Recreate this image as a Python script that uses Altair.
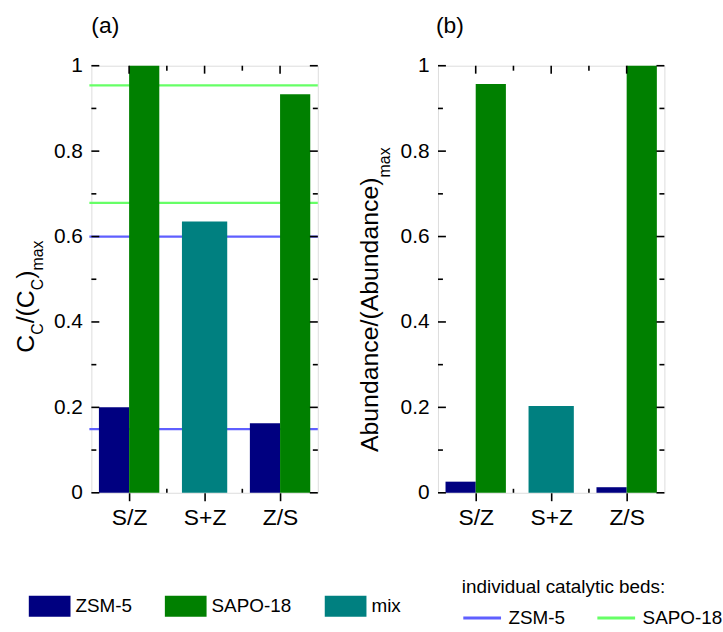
import altair as alt
import pandas as pd

FONT = "Liberation Sans"
TICK_COLOR = "black"

# ---------------- data ----------------
categories = ["S/Z", "S+Z", "Z/S"]
series_names = ["ZSM-5", "SAPO-18", "mix"]

# panel (a): C_C/(C_C)max
cc_zsm5 = [0.200, None, 0.163]
cc_sapo18 = [1.000, None, 0.933]
cc_mix = [None, 0.635, None]

# individual catalytic beds (panel a reference lines)
bed_names = ["ZSM-5", "SAPO-18"]
bed_zsm5 = [0.600, 0.149]
bed_sapo18 = [0.954, 0.679]

# panel (b): Abundance/(Abundance)max
ab_zsm5 = [0.026, None, 0.013]
ab_sapo18 = [0.957, None, 1.000]
ab_mix = [None, 0.203, None]

# axis ticks
y_major = [0, 0.2, 0.4, 0.6, 0.8, 1.0]
y_minor = [0.1, 0.3, 0.5, 0.7, 0.9]
x_major = [1, 2, 3]
x_minor = [1.5, 2.5]

bar_colors = ["#000080", "#008000", "#008080"]
bed_colors = ["#5f5fff", "#66ff66"]

W, H = 228, 430


def bar_table(zsm, sapo, mix):
    rows = []
    for i, cat in enumerate(categories):
        for name, vals in zip(series_names, [zsm, sapo, mix]):
            if vals[i] is not None:
                rows.append({"idx": i + 1, "category": cat, "series": name,
                             "value": vals[i], "base": 0})
    return pd.DataFrame(rows)


label_expr = "[''," + ",".join("'%s'" % c for c in categories) + "][datum.value]"

x_scale = alt.Scale(domain=[0.5, 3.5], nice=False, zero=False)
y_scale = alt.Scale(domain=[0, 1], nice=False, zero=True)

x_axis = alt.Axis(values=x_major, labelExpr=label_expr, ticks=True, tickSize=8,
                  tickWidth=1.6, tickColor=TICK_COLOR, domain=False, grid=False,
                  labelFontSize=23, labelPadding=6, title=None, labelColor="black",
                  labelFont=FONT)
y_axis = alt.Axis(values=y_major, format="~g", ticks=False, domain=False, grid=False,
                  labelFontSize=21, labelPadding=9, title=None, labelColor="black",
                  labelFont=FONT)

# legend positions are relative to the plot origin of panel (a)
fill_legend = alt.Legend(orient="none", legendX=-63, legendY=523, direction="horizontal",
                         title=None, symbolType="M-1,-0.5H1V0.5H-1Z", symbolSize=1764,
                         symbolStrokeWidth=0, symbolOpacity=1, labelFontSize=19,
                         labelFont=FONT, labelColor="black", columnPadding=33,
                         labelOffset=5)
stroke_legend = alt.Legend(orient="none", legendX=373, legendY=516, direction="horizontal",
                           title="individual catalytic beds:", titleFontSize=19,
                           titleFont=FONT, titleFontWeight="normal", titleColor="black",
                           titleLimit=400, titlePadding=7, symbolType="M-1,0H2.04",
                           symbolSize=625, symbolStrokeWidth=3, labelFontSize=19,
                           labelFont=FONT, labelColor="black", columnPadding=26,
                           labelOffset=19)


def bars(df):
    return alt.Chart(df).transform_calculate(
        x0="datum.idx + (datum.series == 'ZSM-5' ? -0.4 : (datum.series == 'SAPO-18' ? 0 : -0.3))",
        x1="datum.idx + (datum.series == 'ZSM-5' ? 0 : (datum.series == 'SAPO-18' ? 0.4 : 0.3))",
    ).mark_rect().encode(
        x=alt.X("x0:Q", scale=x_scale, axis=x_axis),
        x2="x1:Q",
        y=alt.Y("value:Q", scale=y_scale, axis=y_axis),
        y2="base:Q",
        fill=alt.Fill("series:N", scale=alt.Scale(domain=series_names, range=bar_colors),
                      legend=fill_legend),
    )


def ticks():
    ymaj = pd.DataFrame({"v": y_major})
    ymin = pd.DataFrame({"v": y_minor})
    xmaj = pd.DataFrame({"v": x_major})
    xmin = pd.DataFrame({"v": x_minor})
    base = dict(color=TICK_COLOR, strokeWidth=1.6, opacity=1)
    layers = []
    for df, ln in [(ymaj, 8), (ymin, 5)]:
        layers.append(alt.Chart(df).mark_rule(**base).encode(
            y=alt.Y("v:Q", scale=y_scale, axis=y_axis), x=alt.value(0), x2=alt.value(ln)))
        layers.append(alt.Chart(df).mark_rule(**base).encode(
            y=alt.Y("v:Q", scale=y_scale, axis=y_axis), x=alt.value(W), x2=alt.value(W - ln)))
    for df, ln in [(xmaj, 8), (xmin, 5)]:
        layers.append(alt.Chart(df).mark_rule(**base).encode(
            x=alt.X("v:Q", scale=x_scale, axis=x_axis), y=alt.value(0), y2=alt.value(ln)))
    layers.append(alt.Chart(xmin).mark_rule(**base).encode(
        x=alt.X("v:Q", scale=x_scale, axis=x_axis), y=alt.value(H), y2=alt.value(H - 4)))
    return layers


def txt(s, x, y, size, angle=270):
    return alt.Chart(alt.Data(values=[{"k": 1}])).mark_text(
        text=s, angle=angle, align="left", baseline="alphabetic", fontSize=size,
        font=FONT, color="black").encode(x=alt.value(x), y=alt.value(y))


def rot_title(pieces, y_start, x_main, x_sub, big=25, small=16):
    # approximate Arial advance widths (em units)
    w = {"C": 0.722, "/": 0.278, "(": 0.333, ")": 0.333, "m": 0.833, "a": 0.556,
         "x": 0.5, "A": 0.667, "b": 0.556, "u": 0.556, "n": 0.556, "d": 0.556,
         "c": 0.5, "e": 0.556}
    out = []
    y = y_start
    for s, sub in pieces:
        fs = small if sub else big
        out.append(txt(s, x_sub if sub else x_main, y, fs))
        y -= sum(w.get(ch, 0.55) for ch in s) * fs
    return out


# panel (a)
df_a = bar_table(cc_zsm5, cc_sapo18, cc_mix)
beds = pd.DataFrame(
    [{"bed": "ZSM-5", "v": v} for v in bed_zsm5] +
    [{"bed": "SAPO-18", "v": v} for v in bed_sapo18])
rules_a = alt.Chart(beds).mark_rule(strokeWidth=2.2).encode(
    y=alt.Y("v:Q", scale=y_scale, axis=y_axis),
    x=alt.value(-2), x2=alt.value(W),
    stroke=alt.Stroke("bed:N", scale=alt.Scale(domain=bed_names, range=bed_colors),
                      legend=stroke_legend),
)
title_a = rot_title([("C", False), ("C", True), ("/(C", False), ("C", True),
                     (")", False), ("max", True)], 289, -58, -49)
panel_a = alt.layer(rules_a, bars(df_a), *ticks(), *title_a,
                    txt("(a)", 0, -33, 23, angle=0)).properties(width=W, height=H)

# panel (b)
df_b = bar_table(ab_zsm5, ab_sapo18, ab_mix)
title_b = rot_title([("Abundance/(Abundance)", False), ("max", True)], 389, -60, -48)
panel_b = alt.layer(bars(df_b), *ticks(), *title_b,
                    txt("(b)", -2, -33, 23, angle=0)).properties(width=W, height=H)

chart = alt.hconcat(panel_a, panel_b, spacing=38).properties(
    padding={"left": 13, "top": 12, "right": 0, "bottom": 0}
).configure_view(stroke="black", strokeWidth=2).configure(background="white")

chart.save("out.html", embed_options={"renderer": "svg", "actions": False})
